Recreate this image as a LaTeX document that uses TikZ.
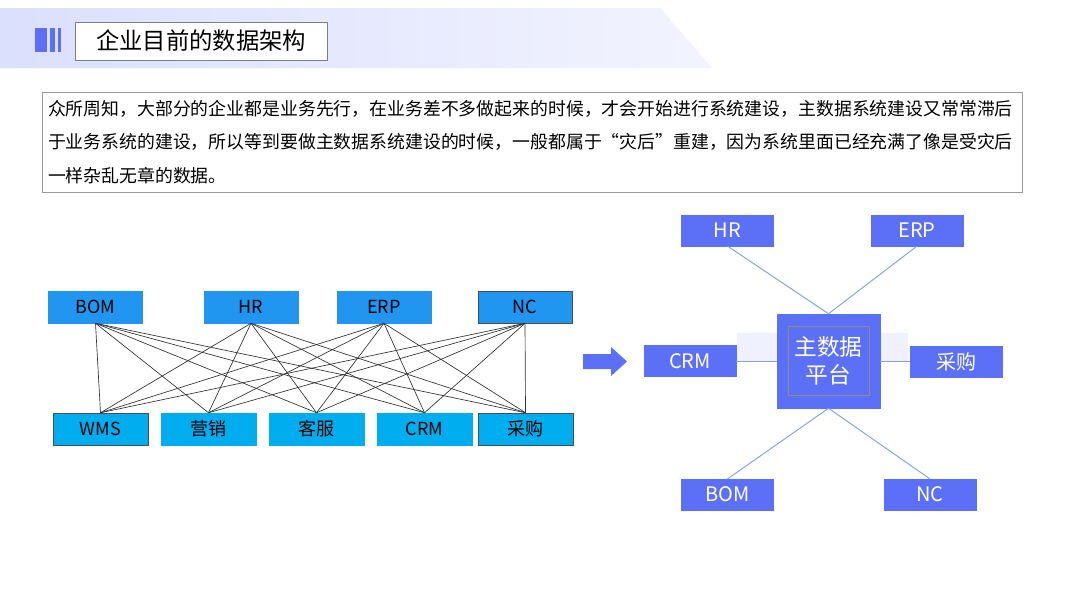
\documentclass[tikz,border=0pt]{standalone}
\usepackage{fontspec}
\setmainfont{Noto Sans CJK SC}
\XeTeXlinebreaklocale "zh"
\XeTeXlinebreakskip=0pt plus 1pt
\definecolor{topb}{HTML}{2196F0}
\definecolor{botb}{HTML}{00AEEF}
\definecolor{mdm}{HTML}{5B70F7}
\definecolor{lnk}{HTML}{7FA0EC}
\begin{document}
\begin{tikzpicture}[x=0.75pt,y=-0.75pt,
 tb/.style={fill=topb,draw=topb,minimum width=70.5pt,minimum height=24pt,inner sep=0pt,font=\fontsize{13.5}{13.5}\selectfont},
 bb/.style={fill=botb,draw=botb,minimum width=71pt,minimum height=24pt,inner sep=0pt,font=\fontsize{13.5}{13.5}\selectfont},
 rb/.style={fill=mdm,draw=mdm,minimum width=69pt,minimum height=23pt,inner sep=0pt,text=white,font=\fontsize{15}{15}\selectfont},
 web/.style={draw=black!80,line width=0.5pt},
 lk/.style={draw=lnk,line width=0.7pt}]
\useasboundingbox (0,0) rectangle (1080,608);
\fill[white] (0,0) rectangle (1080,608);
\shade[left color=mdm!22,right color=mdm!8] (0,8) -- (660,8) -- (712,68) -- (0,68) -- cycle;
\fill[mdm] (35,28) rectangle (47,52);
\fill[mdm] (50,28) rectangle (55,52);
\fill[mdm] (58,28) rectangle (61,52);
\node[draw=black!50,fill=white,minimum width=189pt,minimum height=28.5pt,inner sep=0pt,font=\fontsize{17.5}{17.5}\selectfont] (title) at (201,41) {企业目前的数据架构};
\node[draw=black!40,fill=white,minimum width=735pt,minimum height=75pt,text width=735pt,align=left,inner sep=0pt,font=\fontsize{13.4}{25}\selectfont] (txt) at (532,142) {\hspace*{4.5pt}众所周知，大部分的企业都是业务先行，在业务差不多做起来的时候，才会开始进行系统建设，主数据系统建设又常常滞后\\\hspace*{4.5pt}于业务系统的建设，所以等到要做主数据系统建设的时候，一般都属于“灾后”重建，因为系统里面已经充满了像是受灾后\\\hspace*{4.5pt}一样杂乱无章的数据。};
% left
\node[tb] (bom) at (95.5,307) {BOM};
\node[tb] (hr) at (251,307) {HR};
\node[tb] (erp) at (384,307) {ERP};
\node[tb,draw=black!70] (nc) at (525,307) {NC};
\node[bb,draw=black!70] (wms) at (100.5,429) {WMS};
\node[bb] (yx) at (208.5,429) {营销};
\node[bb] (kf) at (316.5,429) {客服};
\node[bb] (crm) at (424.5,429) {CRM};
\node[bb,draw=black!70] (cg) at (525.5,429) {采购};
\foreach \t in {bom,hr,erp}{\foreach \b in {wms,yx,kf,crm,cg}{\draw[web] (\t.south) -- (\b.north);}}
\foreach \b in {wms,yx,kf,crm}{\draw[web] (nc.south) -- (\b.north);}
\draw[web] (nc.south) -- (cg.north);
\fill[mdm] (583,354) -- (611,354) -- (611,347) -- (627,361.5) -- (611,376) -- (611,369) -- (583,369) -- cycle;
% right
\fill[mdm!10] (737,333) rectangle (908,362);
\node[fill=mdm,draw=mdm,minimum width=77pt,minimum height=70.5pt,inner sep=0pt] (mdmbox) at (828.5,361) {};
\node[draw=black!45,minimum width=61pt,minimum height=52pt,inner sep=0pt,text=white,align=center,font=\fontsize{17}{21}\selectfont] (mdmt) at (828.5,361) {主数据\\平台};
\node[rb] (rhr) at (727.5,230.5) {HR};
\node[rb] (rerp) at (917,230.5) {ERP};
\node[rb] (rcrm) at (690,361) {CRM};
\node[rb] (rcg) at (956,361.5) {采购};
\node[rb] (rbom) at (727.5,494.5) {BOM};
\node[rb] (rnc) at (930,494.5) {NC};
\draw[lk] (rhr.south) -- (mdmbox.north);
\draw[lk] (rerp.south) -- (mdmbox.north);
\draw[lk] (rbom.north) -- (mdmbox.south);
\draw[lk] (rnc.north) -- (mdmbox.south);
\draw[lk] (rcrm.east) -- (mdmbox.west|-rcrm.east);
\draw[lk] (rcg.west) -- (mdmbox.east|-rcg.west);
\end{tikzpicture}
\end{document}
